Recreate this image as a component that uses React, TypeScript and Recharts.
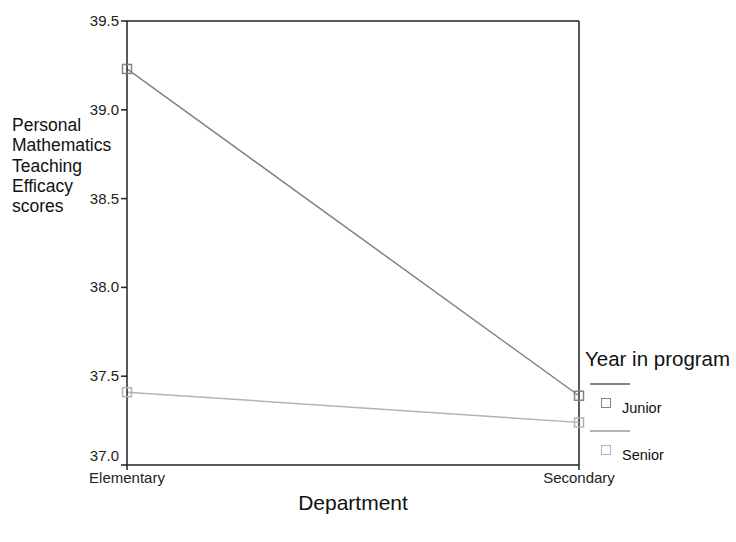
import { LineChart, Line, XAxis, YAxis, ReferenceLine } from 'recharts'

const departments = ['Elementary', 'Secondary']
const juniorScores = [39.23, 37.39]
const seniorScores = [37.41, 37.24]
const yTicks = [37.0, 37.5, 38.0, 38.5, 39.0, 39.5]

const data = departments.map((name, i) => ({
  name,
  junior: juniorScores[i],
  senior: seniorScores[i]
}))

const FONT = '"Liberation Sans", Arial, sans-serif'
const JUNIOR = '#838383'
const SENIOR = '#b3b3b3'

const squareDot = (color: string) => (props: any) => {
  const { cx, cy, index } = props
  if (cx == null || cy == null) return null
  return (
    <rect key={`d-${index}`} x={cx - 4.5} y={cy - 4.5} width={9} height={9} fill="none" stroke={color} strokeWidth={1.5} />
  )
}

// bottom tick label sits a bit higher so it clears the x labels
const YTick = (props: any) => {
  const { x, y, payload } = props
  const shift = payload.value === 37 ? -9 : 0
  return (
    <text x={x} y={y + shift} dy={5} textAnchor="end" fill="#222" fontSize={15} fontFamily={FONT}>
      {Number(payload.value).toFixed(1)}
    </text>
  )
}

function LegendBox() {
  const items = [
    { label: 'Junior', color: JUNIOR },
    { label: 'Senior', color: SENIOR }
  ]
  return (
    <div style={{ position: 'absolute', left: 585, top: 347, width: 151, fontFamily: FONT, color: '#111' }}>
      <div style={{ fontSize: 20.5, lineHeight: '24px', marginBottom: 12, whiteSpace: 'nowrap' }}>Year in program</div>
      {items.map(it => (
        <div key={it.label} style={{ marginLeft: 5, height: 47, position: 'relative' }}>
          <div style={{ width: 40, height: 0, borderTop: `2px solid ${it.color}`, position: 'absolute', top: 0 }} />
          <div style={{ width: 8, height: 8, border: `1.5px solid ${it.color}`, position: 'absolute', left: 11, top: 15 }} />
          <div style={{ position: 'absolute', left: 32, top: 17, fontSize: 14.5 }}>{it.label}</div>
        </div>
      ))}
    </div>
  )
}

export default function App() {
  return (
    <div style={{ position: 'absolute', left: 0, top: 0, width: 736, height: 542, background: '#fff', fontFamily: FONT }}>
      <LineChart width={736} height={542} data={data} margin={{ top: 21, right: 157, left: 57, bottom: 47 }}>
        <XAxis
          dataKey="name"
          stroke="#222"
          strokeWidth={1.5}
          tickSize={5}
          tick={{ fill: '#222', fontSize: 15, fontFamily: FONT }}
          height={30}
          interval={0}
        />
        <YAxis
          domain={[37, 39.5]}
          ticks={yTicks}
          stroke="#222"
          strokeWidth={1.5}
          tickSize={6}
          tick={<YTick />}
          width={70}
          allowDataOverflow
        />
        <ReferenceLine y={39.5} stroke="#222" strokeWidth={1.5} />
        <ReferenceLine x="Secondary" stroke="#222" strokeWidth={1.5} />
        <Line
          dataKey="junior"
          stroke={JUNIOR}
          strokeWidth={1.5}
          dot={squareDot(JUNIOR)}
          isAnimationActive={false}
        />
        <Line
          dataKey="senior"
          stroke={SENIOR}
          strokeWidth={1.5}
          dot={squareDot(SENIOR)}
          isAnimationActive={false}
        />
      </LineChart>
      <LegendBox />
      <div style={{ position: 'absolute', left: 12, top: 115, fontSize: 17.5, lineHeight: '20.3px', color: '#111' }}>
        Personal<br />Mathematics<br />Teaching<br />Efficacy<br />scores
      </div>
      <div style={{ position: 'absolute', left: 0, width: 706, top: 491, textAlign: 'center', fontSize: 21, color: '#111' }}>
        Department
      </div>
    </div>
  )
}
